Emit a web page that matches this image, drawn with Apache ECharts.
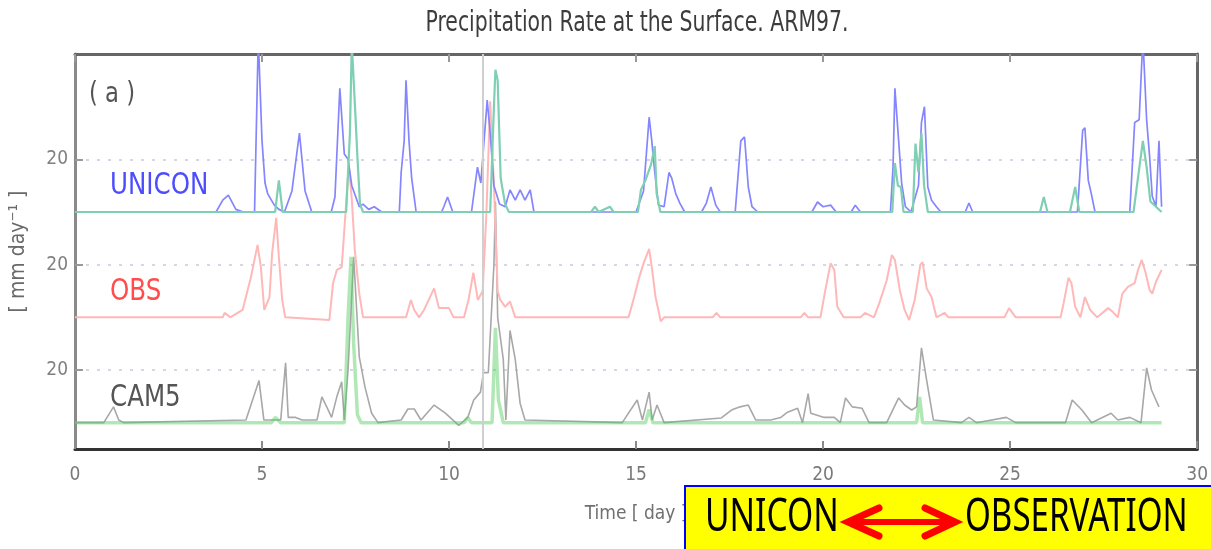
<!DOCTYPE html>
<html><head><meta charset="utf-8">
<script src="https://cdn.jsdelivr.net/npm/echarts@6/dist/echarts.min.js"></script>
<style>html,body{margin:0;padding:0;background:#fff}#c{width:1211px;height:549px}</style>
</head><body><div id="c"></div>
<script>
// ---- tick / label data ----
const xTickValues = [0, 5, 10, 15, 20, 25, 30];
const xTickLabels = ['0', '5', '10', '15', '20', '25', '30'];
const yTickValues = [20, 60, 100];
const yTickLabels = ['20', '20', '20'];
const panelNames = ['UNICON', 'OBS', 'CAM5'];
const panelOffsets = [80, 40, 0];   // vertical stacking offset of each panel (mm/day)
const markerDay = 10.9;             // vertical grey marker

// ---- series data: [day, mm/day] ----
const uniconMain = [[0,0],[3.77,0],[3.95,4.5],[4.1,6.4],[4.3,1],[4.5,0],[4.8,0],[4.9,66],[5.0,27],[5.08,11],[5.15,7],[5.25,4.5],[5.33,2.6],[5.45,1],[5.6,0],[5.8,8],[6.0,30],[6.15,8],[6.33,0],[6.85,0],[6.95,5.7],[7.08,47],[7.2,22],[7.3,20],[7.4,10],[7.6,2],[7.7,3],[7.85,1],[8.0,2],[8.2,0],[8.67,0],[8.72,15],[8.8,27],[8.85,50],[8.93,27],[9.0,13],[9.12,0],[9.8,0],[9.86,2],[9.96,5.7],[10.1,0],[10.6,0],[10.76,17],[10.85,11],[11.02,42.5],[11.1,30],[11.2,10],[11.35,3],[11.5,2],[11.63,8.4],[11.77,4.5],[11.9,8.4],[12.03,4.5],[12.17,8.4],[12.27,0],[15.0,0],[15.2,8],[15.35,36],[15.42,27],[15.5,15],[15.6,2.6],[15.75,2],[15.88,15],[15.95,13],[16.06,7],[16.17,3.4],[16.3,0],[16.75,0],[16.88,3.4],[17.0,9.5],[17.13,2.6],[17.25,0],[17.65,0],[17.8,27],[17.9,28.5],[18.0,9.5],[18.1,2],[18.25,0],[19.7,0],[19.85,3.8],[20.0,2],[20.2,2.6],[20.35,0],[20.75,0],[20.86,2.6],[21.0,0],[21.8,0],[21.87,17],[21.92,47],[22.02,27],[22.1,11],[22.2,2],[22.35,0],[22.55,10],[22.63,34],[22.71,40],[22.8,9.5],[22.9,4.5],[23.03,2],[23.15,0],[23.8,0],[23.9,3.4],[24.0,0],[26.8,0],[26.94,31],[27.0,32],[27.09,12],[27.17,7],[27.27,0],[28.2,0],[28.33,34],[28.45,35],[28.55,66],[28.65,35],[28.73,21],[28.8,6],[28.9,2],[28.98,27],[29.05,2]];
const uniconGreen = [[0,0],[5.35,0],[5.45,12],[5.55,0],[7.25,0],[7.35,30],[7.4,64],[7.45,50],[7.5,36],[7.55,21],[7.62,3],[7.7,0],[11.1,0],[11.2,40],[11.24,54],[11.3,50],[11.35,27],[11.38,13],[11.42,9.5],[11.5,3],[11.6,0],[13.8,0],[13.9,2],[14.0,0],[14.3,2],[14.4,0],[15.05,0],[15.13,8.4],[15.25,12],[15.4,18],[15.5,25],[15.55,7],[15.65,0],[21.85,0],[21.92,18.6],[22.0,10],[22.08,9.5],[22.15,0],[22.4,0],[22.47,26],[22.55,15],[22.63,30],[22.7,10],[22.8,0],[25.8,0],[25.9,5.7],[26.0,0],[26.6,0],[26.74,9.5],[26.85,0],[28.3,0],[28.4,11],[28.55,27],[28.65,17],[28.75,4],[29.05,0]];
const obs = [[0,0],[3.95,0],[4.0,1.7],[4.15,0],[4.48,2.8],[4.7,15],[4.88,27.5],[4.97,19],[5.06,2.8],[5.2,7.7],[5.27,24.4],[5.38,37.8],[5.45,23],[5.54,6.6],[5.62,0],[6.8,-1],[6.9,13],[7.0,18],[7.13,19],[7.2,33],[7.32,58],[7.4,45],[7.48,25.6],[7.6,9],[7.7,0],[8.85,0],[8.98,6.6],[9.07,2.8],[9.2,0],[9.33,2.8],[9.6,11],[9.73,3.5],[10.0,3.5],[10.12,0],[10.4,0],[10.52,6.6],[10.65,17],[10.77,6.6],[10.9,10],[11.0,40],[11.1,82],[11.2,50],[11.3,10],[11.37,6.6],[11.5,4],[11.63,6],[11.77,0],[14.8,0],[14.95,7.7],[15.08,15],[15.2,20.5],[15.35,26],[15.43,18],[15.52,7.7],[15.66,-1.5],[15.75,0],[17.05,0],[17.15,1.7],[17.25,0],[19.4,0],[19.5,1.7],[19.6,0],[19.93,0],[20.06,10.4],[20.2,20.5],[20.3,18],[20.38,4],[20.55,0],[21.0,0],[21.12,1.7],[21.36,0],[21.5,5.3],[21.7,14],[21.84,23.7],[21.92,21.8],[22.05,10.4],[22.18,2.8],[22.3,-1],[22.45,6.6],[22.6,20],[22.66,21],[22.77,11],[22.9,7.7],[23.03,0],[23.25,1.7],[23.35,0],[24.85,0],[24.97,3.5],[25.15,0],[26.35,0],[26.43,5.3],[26.56,15],[26.64,13],[26.74,4],[26.88,0],[27.0,7.7],[27.14,2.8],[27.33,0],[27.62,3.5],[27.75,2],[27.88,0],[28.0,9],[28.15,11.6],[28.33,13],[28.42,18],[28.52,21.8],[28.62,17],[28.73,10.4],[28.8,9],[28.9,13.5],[29.05,18]];
const cam5Main = [[0,0],[0.77,0],[1.03,6],[1.17,1],[1.3,0],[4.57,1],[4.92,16],[5.05,1],[5.5,1],[5.63,22.7],[5.7,2],[5.9,2],[6.07,1],[6.47,1],[6.6,9.8],[6.73,6],[6.86,2],[7.0,9.8],[7.13,15.5],[7.2,1],[7.3,20],[7.45,63],[7.6,25],[7.75,13.7],[7.93,3.6],[8.1,0],[8.72,1],[8.9,5.2],[9.07,5.2],[9.25,1],[9.6,6.7],[9.9,3.6],[10.26,-1],[10.5,2],[10.66,8.6],[10.84,11.6],[10.92,19],[11.05,19],[11.2,60],[11.24,84],[11.3,40],[11.45,24],[11.52,1],[11.63,35],[11.77,24],[11.9,7.4],[12.03,1],[14.63,0],[15.03,8.6],[15.17,1],[15.35,11.6],[15.43,1],[15.56,6.7],[15.75,0],[17.28,1.8],[17.55,4.8],[17.78,6],[18.0,6.7],[18.2,1],[18.6,1],[18.87,2],[19.05,4],[19.32,5.5],[19.45,0],[19.6,11],[19.67,3.6],[20.03,2],[20.3,2],[20.46,0],[20.6,9.4],[20.78,6],[21.04,5.5],[21.23,0],[21.7,0],[22.02,9.4],[22.18,6.7],[22.37,4.8],[22.5,6],[22.63,28.4],[22.77,16],[22.95,1],[23.7,0],[23.9,2],[24.1,0],[24.9,2],[25.15,0],[26.48,0],[26.66,8.6],[26.92,4.8],[27.18,0],[27.7,3.6],[27.88,1],[28.2,2],[28.5,0],[28.65,20.8],[28.78,12.4],[28.98,6]];
const cam5Green = [[0,0],[5.25,0],[5.36,2],[5.5,0],[7.2,0],[7.3,40],[7.38,63],[7.45,30],[7.55,3],[7.65,0],[10.4,0],[10.5,2],[10.6,0],[11.15,0],[11.24,36],[11.32,8.6],[11.45,0],[15.25,0],[15.35,5],[15.45,0],[22.5,0],[22.58,9.8],[22.66,0],[29.05,0]];

const NARROW = "'Liberation Sans Narrow','DejaVu Sans Condensed',sans-serif";
function shift(arr, off) { return arr.map(p => [p[0], p[1] + off]); }

const chart = echarts.init(document.getElementById('c'), null, {renderer: 'canvas'});
const lineBase = {type: 'line', showSymbol: false, symbol: 'none', animation: false, silent: true, clip: true};
const txt = (x, y, text, size, fill, align, sx, extra) => Object.assign({
  type: 'text', x: x, y: y, scaleX: sx, silent: true,
  style: {text: text, fontFamily: NARROW, fontSize: size, fill: fill,
    align: align, verticalAlign: 'middle', textAlign: align, textVerticalAlign: 'middle'}}, extra || {});

const option = {
  animation: false,
  backgroundColor: '#ffffff',
  grid: {left: 71, right: 8, top: 54, bottom: 100, containLabel: false},
  xAxis: [
    {type: 'value', position: 'bottom', min: 0, max: 30, interval: 5,
     axisLine: {show: true, onZero: false, lineStyle: {color: '#333', width: 3}},
     axisTick: {show: true, inside: true, length: 8, lineStyle: {color: '#8a8a8a', width: 2}},
     axisLabel: {fontFamily: NARROW, fontSize: 19, color: '#7a7a7a', margin: 17,
       formatter: v => xTickLabels[xTickValues.indexOf(v)]},
     splitLine: {show: false},
     name: 'Time [ day ]', nameLocation: 'middle', nameGap: 56,
     nameTextStyle: {fontFamily: NARROW, fontSize: 19, color: '#707070'}},
    {type: 'value', position: 'top', min: 0, max: 30, interval: 5,
     axisLine: {show: true, onZero: false, lineStyle: {color: '#666', width: 3}},
     axisTick: {show: true, inside: true, length: 8, lineStyle: {color: '#999', width: 2}},
     axisLabel: {show: false}, splitLine: {show: false}}
  ],
  yAxis: [
    {type: 'value', position: 'left', min: -10, max: 140,
     axisLine: {show: true, onZero: false, lineStyle: {color: '#8a8a8a', width: 3}},
     axisTick: {show: true, inside: true, length: 8, customValues: yTickValues, lineStyle: {color: '#999', width: 2}},
     axisLabel: {customValues: yTickValues, fontFamily: NARROW, fontSize: 19, color: '#808080', margin: 7,
       formatter: v => yTickLabels[yTickValues.indexOf(v)]},
     splitLine: {show: true, lineStyle: {color: '#d6d6e6', width: 2, type: [3, 8]}},
     name: '[ mm day\u207B\u00B9 ]', nameLocation: 'middle', nameGap: 46, nameRotate: 90,
     nameTextStyle: {fontFamily: NARROW, fontSize: 21, color: '#6a6a6a'}},
    {type: 'value', position: 'right', min: -10, max: 140,
     axisLine: {show: true, onZero: false, lineStyle: {color: '#666', width: 3}},
     axisTick: {show: true, inside: true, length: 8, customValues: yTickValues, lineStyle: {color: '#999', width: 2}},
     axisLabel: {show: false}, splitLine: {show: false}}
  ],
  series: [
    Object.assign({}, lineBase, {name: 'CAM5', data: shift(cam5Main, panelOffsets[2]), z: 2,
      lineStyle: {color: '#a8a8a8', width: 1.6},
      markLine: {silent: true, symbol: ['none', 'none'], label: {show: false}, animation: false,
        lineStyle: {color: '#cfcfcf', width: 2, type: 'solid'}, data: [{xAxis: markerDay}]}}),
    Object.assign({}, lineBase, {name: 'CAM5 green', data: shift(cam5Green, panelOffsets[2]), z: 3,
      lineStyle: {color: 'rgba(80,205,90,0.45)', width: 3.5}}),
    Object.assign({}, lineBase, {name: 'OBS', data: shift(obs, panelOffsets[1]), z: 3,
      lineStyle: {color: '#ffb8b8', width: 2}}),
    Object.assign({}, lineBase, {name: 'UNICON', data: shift(uniconMain, panelOffsets[0]), z: 4,
      lineStyle: {color: '#8585ff', width: 1.7}}),
    Object.assign({}, lineBase, {name: 'UNICON green', data: shift(uniconGreen, panelOffsets[0]), z: 5,
      lineStyle: {color: '#7fd0b2', width: 2.2}})
  ],
  graphic: [
    txt(637, 24, 'Precipitation Rate at the Surface. ARM97.', 28, '#3c3c3c', 'center', 0.81),
    txt(112, 95, '( a )', 28, '#555', 'center', 0.9),
    txt(110, 186, panelNames[0], 31, '#4d4dff', 'left', 0.88),
    txt(110, 292, panelNames[1], 31, '#ff4d4d', 'left', 0.88),
    txt(110, 398, panelNames[2], 31, '#555', 'left', 0.88),
    // annotation box
    {type: 'rect', silent: true, z: 100, shape: {x: 685, y: 486, width: 540, height: 80},
     style: {fill: '#ffff00', stroke: '#0000ff', lineWidth: 2}},
    {type: 'text', x: 705, y: 518, scaleX: 0.73, silent: true, z: 101,
     style: {text: 'UNICON', fontFamily: "'Noto Sans','Open Sans',sans-serif", fontSize: 46, fill: '#000',
       align: 'left', verticalAlign: 'middle', textAlign: 'left', textVerticalAlign: 'middle'}},
    {type: 'text', x: 965, y: 518, scaleX: 0.72, silent: true, z: 101,
     style: {text: 'OBSERVATION', fontFamily: "'Noto Sans','Open Sans',sans-serif", fontSize: 46, fill: '#000',
       align: 'left', verticalAlign: 'middle', textAlign: 'left', textVerticalAlign: 'middle'}},
    {type: 'line', silent: true, z: 101, shape: {x1: 852, y1: 522, x2: 951, y2: 522},
     style: {stroke: '#ff0000', lineWidth: 6}},
    {type: 'polyline', silent: true, z: 101, shape: {points: [[879, 508], [848, 522], [879, 536]]},
     style: {stroke: '#ff0000', lineWidth: 7, lineCap: 'round', lineJoin: 'miter', fill: null}},
    {type: 'polyline', silent: true, z: 101, shape: {points: [[925, 508], [955, 522], [925, 536]]},
     style: {stroke: '#ff0000', lineWidth: 7, lineCap: 'round', lineJoin: 'miter', fill: null}}
  ]
};
chart.setOption(option);
</script>
</body></html>
